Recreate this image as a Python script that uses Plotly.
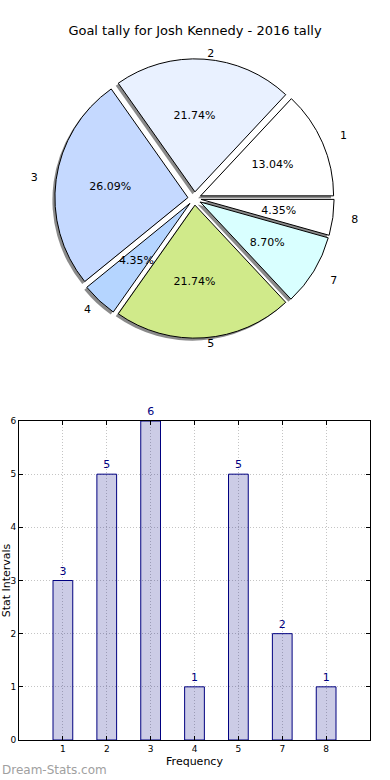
import plotly.graph_objects as go

# ---------------- data ----------------
categories = ["1", "2", "3", "4", "5", "7", "8"]
goals = [3, 5, 6, 1, 5, 2, 1]
pie_colors = ["#ffffff", "#e9f1ff", "#c5d9ff", "#b5d5ff", "#d0ea8a", "#d9ffff", "#ffffff"]
title_text = "Goal tally for Josh Kennedy - 2016 tally"
x_title = "Frequency"
y_title = "Stat Intervals"
watermark = "Dream-Stats.com"

# ---------------- layout constants ----------------
W, H = 390, 780
FONT = "DejaVu Sans"
CX, CY = 194.5, 198.5          # pie centre in px
R = 133.0                       # pie radius in px
PULL = 0.05
SHADOW = 2.5
# first wedge starts at 3 o'clock and runs counter-clockwise
ROT = 90 - 360 * goals[0] / sum(goals)
# label ring radii (the original pie is slightly wider than tall)
LABEL_GROUPS = [({"1", "3", "7", "8"}, 155.0), ({"2", "5"}, 139.0), ({"4"}, 147.0)]


def dom(cx, cy, half):
    return dict(x=[(cx - half) / W, (cx + half) / W],
                y=[(H - cy - half) / H, (H - cy + half) / H])


common = dict(labels=categories, values=goals, sort=False,
              direction="counterclockwise", rotation=ROT,
              hoverinfo="skip", showlegend=False)
clear = dict(colors=["rgba(0,0,0,0)"] * len(goals), line=dict(width=0))

fig = go.Figure()

# shadow
fig.add_trace(go.Pie(**common, pull=PULL, textinfo="none",
                     marker=dict(colors=["rgba(60,60,60,0.6)"] * len(goals), line=dict(width=0)),
                     domain=dom(CX - SHADOW, CY + SHADOW, R * (1 + PULL))))
# main pie
fig.add_trace(go.Pie(**common, pull=PULL, textinfo="none",
                     marker=dict(colors=pie_colors, line=dict(color="black", width=1)),
                     domain=dom(CX, CY, R * (1 + PULL))))
# outside labels
for group, rl in LABEL_GROUPS:
    fig.add_trace(go.Pie(**common, text=[c if c in group else "" for c in categories],
                         textinfo="text", textposition="outside",
                         outsidetextfont=dict(family=FONT, size=11, color="black"),
                         marker=clear, domain=dom(CX, CY, rl)))
# percentages
RT = R * 0.64 / 0.9
fig.add_trace(go.Pie(**common, hole=0.8, texttemplate="%{percent:.2%}",
                     textposition="inside", insidetextorientation="horizontal",
                     insidetextfont=dict(family=FONT, size=11, color="black"),
                     marker=clear, domain=dom(CX, CY, RT)))

# bar chart
fig.add_trace(go.Bar(x=categories, y=goals, width=0.45,
                     marker=dict(color="rgba(0,0,128,0.2)", line=dict(color="#000080", width=1)),
                     text=goals, textposition="outside", cliponaxis=False,
                     textfont=dict(family=FONT, size=11, color="#000080"),
                     hoverinfo="skip", showlegend=False))

axis_style = dict(showline=True, linecolor="black", linewidth=1, mirror="ticks",
                  ticks="inside", ticklen=4, tickcolor="black", tickwidth=1,
                  showgrid=True, gridcolor="#c4c4c4", griddash="1px,2px", gridwidth=1,
                  zeroline=False, tickfont=dict(family=FONT, size=9, color="black"),
                  automargin=False)

fig.update_layout(
    width=W, height=H,
    margin=dict(l=0, r=0, t=0, b=0),
    paper_bgcolor="white", plot_bgcolor="white",
    font=dict(family=FONT, color="black"),
    uniformtext=dict(minsize=11, mode="show"),
    title=dict(text=title_text, x=0.5, xanchor="center", y=1 - 30 / H, yanchor="middle",
               font=dict(family=FONT, size=13, color="black")),
    xaxis=dict(axis_style, domain=[19 / W, 370 / W], type="category", range=[-1, 7],
               title=dict(text=x_title, font=dict(family=FONT, size=11), standoff=4)),
    yaxis=dict(axis_style, domain=[1 - 740 / H, 1 - 421 / H], range=[0, 6], dtick=1,
               title=dict(text=y_title, font=dict(family=FONT, size=11), standoff=4)),
    annotations=[dict(text=watermark, x=0, xref="paper", xanchor="left",
                      y=1 - 770 / H, yref="paper", yanchor="middle", showarrow=False,
                      font=dict(family=FONT, size=12, color="#a0a0a0"))],
)

fig.write_html("out.html", config={"displayModeBar": False},
               post_script="document.body.style.margin='0';document.body.style.padding='0';")
